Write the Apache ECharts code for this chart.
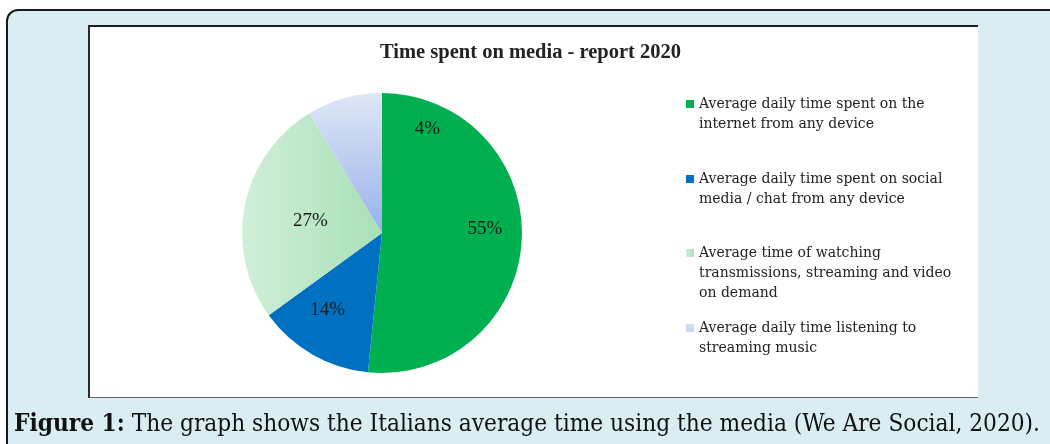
<!DOCTYPE html>
<html>
<head>
<meta charset="utf-8">
<script src="https://cdn.jsdelivr.net/npm/echarts@6/dist/echarts.min.js"></script>
<style>
  html, body { margin: 0; padding: 0; background: #fff; }
  #wrap { position: relative; width: 1050px; height: 444px; overflow: hidden; }
  .outer { position: absolute; left: 6px; top: 9px; width: 1100px; height: 500px;
           background: #d9edf2; border: 2px solid #1a1a1a; border-radius: 12px; }
  .inner { position: absolute; left: 88px; top: 25px; width: 890px; height: 373px; background: #fff;
           border-top: 2px solid #1e1e1e; border-left: 2px solid #2a2a2a; border-bottom: 1px solid #666;
           box-sizing: border-box; }
  #chart { position: absolute; left: 0; top: 0; width: 1050px; height: 444px; }
  #caption { position: absolute; left: 14px; top: 408px; white-space: nowrap; color: #111;
             font-family: "DejaVu Serif Condensed", "DejaVu Serif", serif; font-stretch: condensed;
             font-size: 24px; line-height: 30px; transform-origin: 0 0; }
</style>
</head>
<body>
<div id="wrap">
  <div class="outer"></div>
  <div class="inner"></div>
  <div id="chart"></div>
  <div id="caption"><b>Figure 1:</b> The graph shows the Italians average time using the media (We Are Social, 2020).</div>
</div>
<script>
// 数据
var names = [
  'Average daily time spent on the internet from any device',
  'Average daily time spent on social media / chat from any device',
  'Average time of watching transmissions, streaming and video on demand',
  'Average daily time listening to streaming music'
];
var values = [51.6, 13.4, 26.3, 8.7];          // slice sizes as drawn
var printedPct = ['55%', '14%', '27%', '4%'];   // labels printed on the slices
// legend text as wrapped in the figure
var legendText = [
  'Average daily time spent on the\ninternet from any device',
  'Average daily time spent on social\nmedia / chat from any device',
  'Average time of watching\ntransmissions, streaming and video\non demand',
  'Average daily time listening to\nstreaming music'
];

var colors = [
  '#00b050',
  '#0070c0',
  new echarts.graphic.LinearGradient(0, 0, 1, 0, [{offset: 0, color: '#d0efd9'}, {offset: 1, color: '#a8e0b6'}]),
  new echarts.graphic.LinearGradient(0, 0, 0, 1, [{offset: 0, color: '#dfe7f6'}, {offset: 1, color: '#97b1ea'}])
];
var labelOffsets = [[30, -8], [-18, 14], [0, 2], [65, -34]];

var legendCenters = [104, 179, 253, 328];   // first line of each legend item
var lineH = 20;

var myChart = echarts.init(document.getElementById('chart'));

var legends = names.map(function (n, i) {
  var lines = legendText[i].split('\n').length;
  var h = lines * lineH;
  // small square next to the first line, box stretched to the full text height
  var icon = 'path://M0,0L0,0M0,6L8,6L8,14L0,14ZM0,' + h + 'L0,' + h;
  return {
    data: [n],
    orient: 'vertical',
    left: 686,
    top: legendCenters[i] - lineH / 2,
    padding: 0,
    icon: icon,
    itemWidth: 8,
    itemHeight: h,
    selectedMode: false,
    formatter: function () { return legendText[i]; },
    textStyle: {
      fontFamily: 'DejaVu Serif',
      fontSize: 14,
      lineHeight: lineH,
      color: '#222'
    }
  };
});

var option = {
  animation: false,
  title: {
    text: 'Time spent on media - report 2020',
    left: 380,
    top: 42,
    padding: 0,
    textStyle: { fontFamily: 'Liberation Serif', fontWeight: 'bold', fontSize: 20.5, color: '#222' }
  },
  legend: legends,
  series: [{
    type: 'pie',
    center: [382, 233],
    radius: 140,
    startAngle: 90,
    clockwise: true,
    emphasis: { scale: false },
    itemStyle: { borderWidth: 0 },
    label: {
      position: 'inside',
      fontFamily: 'Liberation Serif',
      fontSize: 19,
      color: '#1a1a1a',
      formatter: function (p) { return printedPct[p.dataIndex]; }
    },
    labelLine: { show: false },
    data: names.map(function (n, i) {
      return {
        name: n,
        value: values[i],
        itemStyle: { color: colors[i] },
        label: { offset: labelOffsets[i] }
      };
    })
  }]
};

myChart.setOption(option);

// fit caption width to the figure
var cap = document.getElementById('caption');
var w = cap.getBoundingClientRect().width;
cap.style.transform = 'scaleX(' + (1026 / w) + ')';
</script>
</body>
</html>
